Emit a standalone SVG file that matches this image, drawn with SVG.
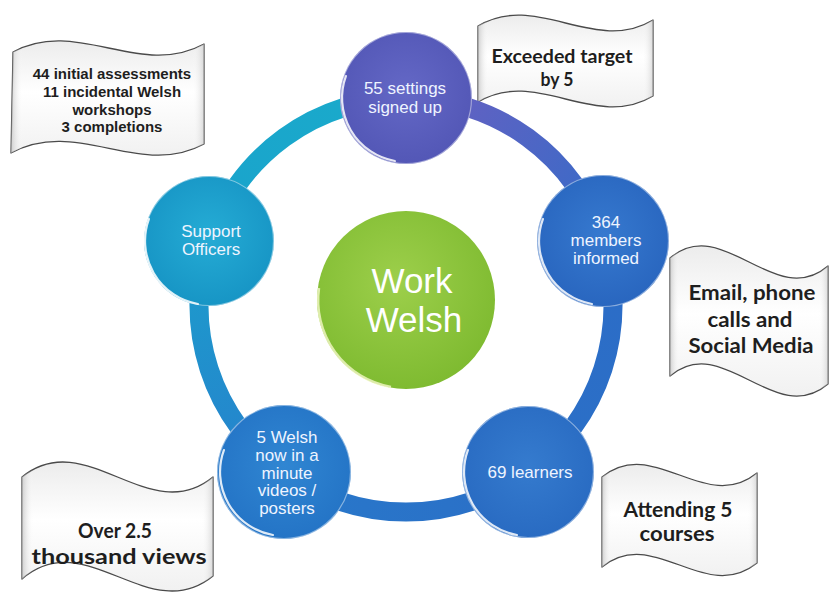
<svg xmlns="http://www.w3.org/2000/svg" xmlns:xlink="http://www.w3.org/1999/xlink" width="829" height="598" viewBox="0 0 829 598">
  <style>
    .note { stroke: #4a4a4a; stroke-width: 1.3; stroke-linejoin: round; }
    .note-shade { fill: url(#noteSide); }
    .note-text { font-family: "Lato", "Liberation Sans", sans-serif; font-weight: 700; fill: #1e1e1e; text-anchor: middle; }
    .note-arial { font-family: "Liberation Sans", Arial, sans-serif; font-weight: 700; font-size: 15px; fill: #1e1e1e; text-anchor: middle; }
    .ring { fill: none; stroke-width: 19; }
    .node-text { font-family: "Liberation Sans", Arial, sans-serif; font-size: 17px; fill: #eef4ff; text-anchor: middle; }
    .rim { fill: none; stroke: #ffffff; stroke-opacity: 0.45; stroke-width: 1.2; }
    .gloss { fill: none; stroke: #ffffff; stroke-opacity: 0.85; stroke-width: 2.2; stroke-linecap: round; }
    .hub-text { font-family: "Liberation Sans", Arial, sans-serif; font-size: 35px; fill: #ffffff; text-anchor: middle; }
  </style>
  <defs>
    <!-- paper fill of the wavy flags -->
    <linearGradient id="noteFill" x1="0" y1="0" x2="0" y2="1">
      <stop offset="0" stop-color="#ececec"/>
      <stop offset="0.45" stop-color="#ffffff"/>
      <stop offset="1" stop-color="#f1f1f1"/>
    </linearGradient>
    <linearGradient id="noteSide" x1="0" y1="0" x2="1" y2="0">
      <stop offset="0" stop-color="#bdbdbd" stop-opacity="0.7"/>
      <stop offset="0.06" stop-color="#ffffff" stop-opacity="0"/>
      <stop offset="0.94" stop-color="#ffffff" stop-opacity="0"/>
      <stop offset="1" stop-color="#c4c4c4" stop-opacity="0.6"/>
    </linearGradient>

    <!-- node fills -->
    <radialGradient id="gPurple" cx="0.5" cy="0.45" r="0.55">
      <stop offset="0" stop-color="#6468c6"/>
      <stop offset="1" stop-color="#5357b6"/>
    </radialGradient>
    <radialGradient id="gBlueA" cx="0.5" cy="0.45" r="0.55">
      <stop offset="0" stop-color="#3679cf"/>
      <stop offset="1" stop-color="#2966bf"/>
    </radialGradient>
    <radialGradient id="gBlueB" cx="0.5" cy="0.45" r="0.55">
      <stop offset="0" stop-color="#357bce"/>
      <stop offset="1" stop-color="#296bc2"/>
    </radialGradient>
    <radialGradient id="gBlueC" cx="0.5" cy="0.45" r="0.55">
      <stop offset="0" stop-color="#3086d2"/>
      <stop offset="1" stop-color="#2474c6"/>
    </radialGradient>
    <radialGradient id="gCyan" cx="0.5" cy="0.45" r="0.55">
      <stop offset="0" stop-color="#25acd5"/>
      <stop offset="1" stop-color="#1795c5"/>
    </radialGradient>
    <radialGradient id="gGreen" cx="0.45" cy="0.4" r="0.6">
      <stop offset="0" stop-color="#9dcf4b"/>
      <stop offset="1" stop-color="#7fbb31"/>
    </radialGradient>

    <!-- ring segment colours -->
    <linearGradient id="arc1" gradientUnits="userSpaceOnUse" x1="209" y1="241" x2="406" y2="98">
      <stop offset="0" stop-color="#1aa3cc"/>
      <stop offset="1" stop-color="#1aabcb"/>
    </linearGradient>
    <linearGradient id="arc2" gradientUnits="userSpaceOnUse" x1="406" y1="98" x2="603" y2="241">
      <stop offset="0" stop-color="#6a5fc1"/>
      <stop offset="1" stop-color="#356cc8"/>
    </linearGradient>
    <linearGradient id="arc3" gradientUnits="userSpaceOnUse" x1="603" y1="241" x2="528" y2="472">
      <stop offset="0" stop-color="#2c6cc7"/>
      <stop offset="1" stop-color="#2b70c7"/>
    </linearGradient>
    <linearGradient id="arc4" gradientUnits="userSpaceOnUse" x1="528" y1="472" x2="284" y2="472">
      <stop offset="0" stop-color="#2b6fc7"/>
      <stop offset="1" stop-color="#2878ca"/>
    </linearGradient>
    <linearGradient id="arc5" gradientUnits="userSpaceOnUse" x1="284" y1="472" x2="209" y2="241">
      <stop offset="0" stop-color="#2681cd"/>
      <stop offset="1" stop-color="#1c9dcc"/>
    </linearGradient>

    <!-- highlight along the lower left edge of a node, radius 64 -->
    <path id="glossArc" d="M -11.1 63 A 64 64 0 0 1 -60.1 -21.9"/>
  </defs>

  <rect width="829" height="598" fill="#ffffff"/>

  <!-- wavy flags -->
  <g id="note-assessments">
    <path class="note" fill="url(#noteFill)" d="M 13 52 C 77 17 140 79 204 44 L 204 144 C 140 179 77 117 11 153 Z"/>
    <path class="note-shade" d="M 13 52 C 77 17 140 79 204 44 L 204 144 C 140 179 77 117 11 153 Z"/>
    <text class="note-arial" x="112" y="79">44 initial assessments</text>
    <text class="note-arial" x="112" y="97">11 incidental Welsh</text>
    <text class="note-arial" x="112" y="115">workshops</text>
    <text class="note-arial" x="112" y="132">3 completions</text>
  </g>

  <g id="note-target">
    <path class="note" fill="url(#noteFill)" d="M 478 26 C 536 -9 595 55 653 20 L 653 96 C 595 131 536 67 478 102 Z"/>
    <path class="note-shade" d="M 478 26 C 536 -9 595 55 653 20 L 653 96 C 595 131 536 67 478 102 Z"/>
    <text class="note-text" font-size="19" x="562" y="62.5" textLength="141" lengthAdjust="spacingAndGlyphs">Exceeded target</text>
    <text class="note-text" font-size="19" x="557" y="85.5" textLength="33" lengthAdjust="spacingAndGlyphs">by 5</text>
  </g>

  <g id="note-channels">
    <path class="note" fill="url(#noteFill)" d="M 670 258 C 723 213 775 311 828 266 L 828 384 C 775 429 723 331 670 376 Z"/>
    <path class="note-shade" d="M 670 258 C 723 213 775 311 828 266 L 828 384 C 775 429 723 331 670 376 Z"/>
    <text class="note-text" font-size="21.5" x="752" y="300" textLength="127" lengthAdjust="spacingAndGlyphs">Email, phone</text>
    <text class="note-text" font-size="21.5" x="750" y="327" textLength="85" lengthAdjust="spacingAndGlyphs">calls and</text>
    <text class="note-text" font-size="21.5" x="751" y="353" textLength="125" lengthAdjust="spacingAndGlyphs">Social Media</text>
  </g>

  <g id="note-courses">
    <path class="note" fill="url(#noteFill)" d="M 602 477 C 654 435 705 515 757 473 L 757 563 C 705 605 654 525 602 567 Z"/>
    <path class="note-shade" d="M 602 477 C 654 435 705 515 757 473 L 757 563 C 705 605 654 525 602 567 Z"/>
    <text class="note-text" font-size="20" x="678" y="516.5" textLength="109" lengthAdjust="spacingAndGlyphs">Attending 5</text>
    <text class="note-text" font-size="20" x="677" y="540.5" textLength="75" lengthAdjust="spacingAndGlyphs">courses</text>
  </g>

  <g id="note-views">
    <path class="note" fill="url(#noteFill)" d="M 22 477 C 86 425 149 529 213 477 L 213 576 C 149 628 86 524 22 579 Z"/>
    <path class="note-shade" d="M 22 477 C 86 425 149 529 213 477 L 213 576 C 149 628 86 524 22 579 Z"/>
    <text class="note-text" font-size="21.5" x="115" y="538" textLength="74" lengthAdjust="spacingAndGlyphs">Over 2.5</text>
    <text class="note-text" font-size="21.5" x="119" y="564" textLength="175" lengthAdjust="spacingAndGlyphs">thousand views</text>
  </g>

  <!-- ring joining the five outer nodes -->
  <g id="connectors">
    <path class="ring" stroke="url(#arc1)" d="M 209.1 241 A 207 207 0 0 1 406 98"/>
    <path class="ring" stroke="url(#arc2)" d="M 406 98 A 207 207 0 0 1 602.9 241"/>
    <path class="ring" stroke="url(#arc3)" d="M 602.9 241 A 207 207 0 0 1 527.7 472.5"/>
    <path class="ring" stroke="url(#arc4)" d="M 527.7 472.5 A 207 207 0 0 1 284.3 472.5"/>
    <path class="ring" stroke="url(#arc5)" d="M 284.3 472.5 A 207 207 0 0 1 209.1 241"/>
  </g>

  <g id="hub" transform="translate(406 300)">
    <circle r="89" fill="url(#gGreen)"/>
    <path d="M -15 87 A 88 88 0 0 1 -87 -12" fill="none" stroke="#f4f8c8" stroke-width="2.5" stroke-opacity="0.8"/>
    <text class="hub-text" x="6" y="-7">Work</text>
    <text class="hub-text" x="8" y="32">Welsh</text>
  </g>

  <g id="node-settings" transform="translate(406 98)">
    <circle r="66" fill="url(#gPurple)"/>
    <circle class="rim" r="65.5"/>
    <use xlink:href="#glossArc" class="gloss"/>
    <text class="node-text" x="-1" y="-4">55 settings</text>
    <text class="node-text" x="-1" y="15">signed up</text>
  </g>

  <g id="node-members" transform="translate(603 241)">
    <circle r="66" fill="url(#gBlueA)"/>
    <circle class="rim" r="65.5"/>
    <use xlink:href="#glossArc" class="gloss"/>
    <text class="node-text" x="3" y="-13">364</text>
    <text class="node-text" x="3" y="5">members</text>
    <text class="node-text" x="3" y="23">informed</text>
  </g>

  <g id="node-learners" transform="translate(528 472)">
    <circle r="66" fill="url(#gBlueB)"/>
    <circle class="rim" r="65.5"/>
    <use xlink:href="#glossArc" class="gloss"/>
    <text class="node-text" x="2" y="6">69 learners</text>
  </g>

  <g id="node-videos" transform="translate(284 472)">
    <circle r="67" fill="url(#gBlueC)"/>
    <circle class="rim" r="66.5"/>
    <use xlink:href="#glossArc" class="gloss"/>
    <text class="node-text" x="3" y="-29">5 Welsh</text>
    <text class="node-text" x="3" y="-11.3">now in a</text>
    <text class="node-text" x="3" y="6.5">minute</text>
    <text class="node-text" x="3" y="24.3">videos /</text>
    <text class="node-text" x="3" y="42">posters</text>
  </g>

  <g id="node-support" transform="translate(209 241)">
    <circle r="65" fill="url(#gCyan)"/>
    <circle class="rim" r="64.5"/>
    <use xlink:href="#glossArc" class="gloss"/>
    <text class="node-text" x="2" y="-4">Support</text>
    <text class="node-text" x="2" y="14">Officers</text>
  </g>
</svg>
